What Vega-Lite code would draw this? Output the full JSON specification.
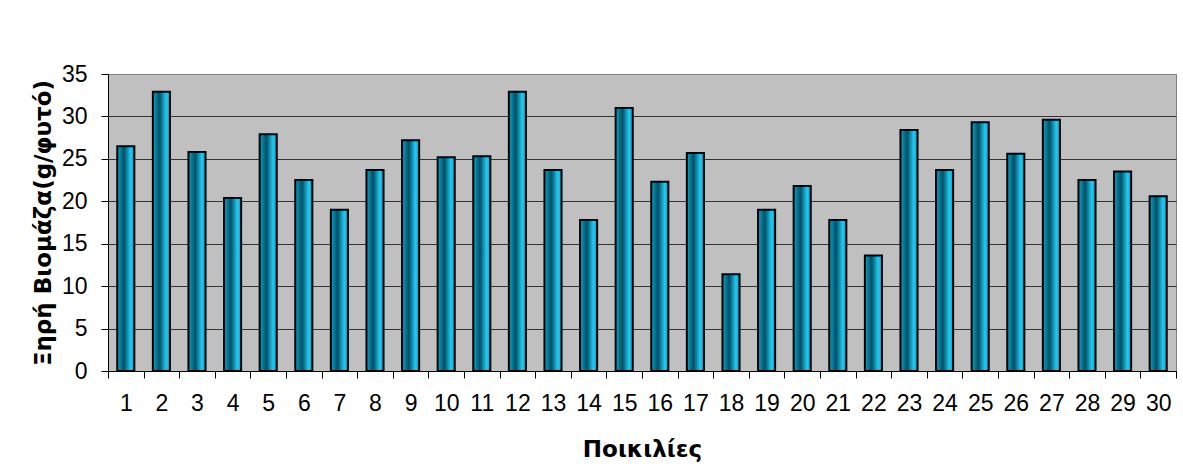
{
  "$schema": "https://vega.github.io/schema/vega-lite/v6.json",
  "width": 1068,
  "height": 297,
  "autosize": {"type": "none"},
  "padding": {"left": 108, "top": 74, "right": 7, "bottom": 104},
  "background": "white",
  "config": {
    "font": "Liberation Sans",
    "view": {"fill": "#C0C0C0", "stroke": "#808080", "strokeWidth": 1}
  },
  "data": {
    "values": [
      {"k": "1", "b": 26.5}, {"k": "2", "b": 32.9}, {"k": "3", "b": 25.8},
      {"k": "4", "b": 20.4}, {"k": "5", "b": 27.9}, {"k": "6", "b": 22.5},
      {"k": "7", "b": 19.0}, {"k": "8", "b": 23.7}, {"k": "9", "b": 27.2},
      {"k": "10", "b": 25.2}, {"k": "11", "b": 25.3}, {"k": "12", "b": 32.9},
      {"k": "13", "b": 23.7}, {"k": "14", "b": 17.8}, {"k": "15", "b": 31.0},
      {"k": "16", "b": 22.3}, {"k": "17", "b": 25.7}, {"k": "18", "b": 11.4},
      {"k": "19", "b": 19.0}, {"k": "20", "b": 21.8}, {"k": "21", "b": 17.8},
      {"k": "22", "b": 13.6}, {"k": "23", "b": 28.4}, {"k": "24", "b": 23.7},
      {"k": "25", "b": 29.3}, {"k": "26", "b": 25.6}, {"k": "27", "b": 29.6},
      {"k": "28", "b": 22.5}, {"k": "29", "b": 23.5}, {"k": "30", "b": 20.6}
    ]
  },
  "mark": {
    "type": "bar",
    "width": {"band": 0.48},
    "stroke": "black",
    "strokeWidth": 2,
    "color": {
      "gradient": "linear",
      "x1": 0, "y1": 0, "x2": 1, "y2": 0,
      "stops": [
        {"offset": 0, "color": "#0aa2cc"},
        {"offset": 0.4, "color": "#035064"},
        {"offset": 0.78, "color": "#24c8f2"},
        {"offset": 1, "color": "#0e9cc4"}
      ]
    }
  },
  "encoding": {
    "x": {
      "field": "k",
      "type": "ordinal",
      "sort": null,
      "scale": {"paddingInner": 0, "paddingOuter": 0},
      "axis": {
        "title": "Ποικιλίες",
        "titleFont": "DejaVu Sans",
        "titleFontSize": 23,
        "titleFontWeight": "bold",
        "titleColor": "black",
        "titlePadding": 23,
        "labelAngle": 0,
        "labelFontSize": 23,
        "labelColor": "black",
        "labelPadding": 14,
        "tickBand": "extent",
        "tickColor": "black",
        "tickSize": 7,
        "domainColor": "black",
        "grid": false
      }
    },
    "y": {
      "field": "b",
      "type": "quantitative",
      "scale": {"domain": [0, 35], "nice": false},
      "axis": {
        "title": "Ξηρή Βιομάζα(g/φυτό)",
        "titleFont": "DejaVu Sans",
        "titleFontSize": 23,
        "titleFontWeight": "bold",
        "titleColor": "black",
        "titlePadding": 6,
        "values": [0, 5, 10, 15, 20, 25, 30, 35],
        "labelFontSize": 23,
        "labelColor": "black",
        "labelPadding": 14,
        "tickColor": "black",
        "tickSize": 7,
        "domainColor": "black",
        "grid": true,
        "gridColor": {"condition": {"test": "datum.value === 35", "value": "#808080"}, "value": "#333333"},
        "gridOpacity": 1
      }
    }
  }
}
